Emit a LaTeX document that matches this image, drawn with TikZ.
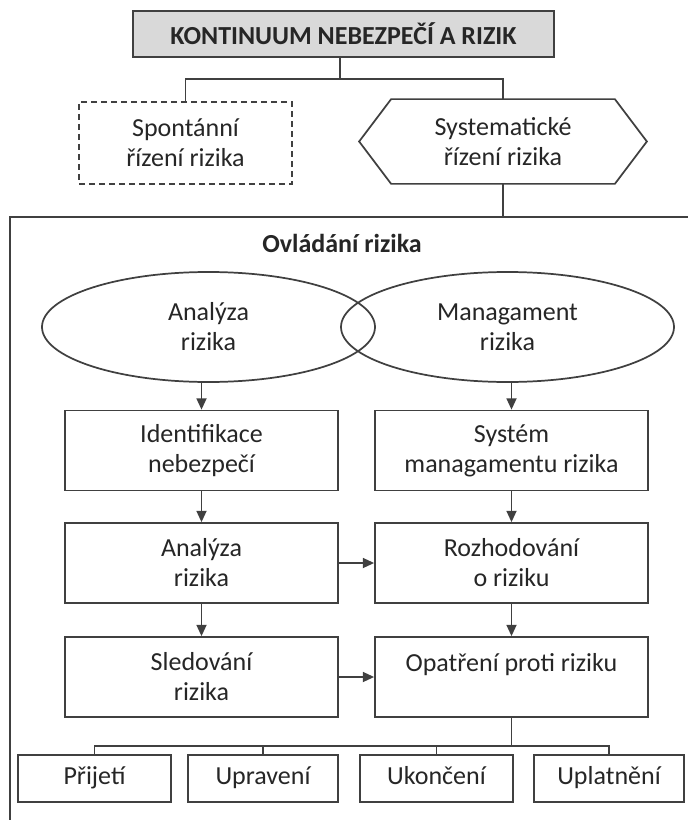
\documentclass[tikz,border=0pt]{standalone}
\usepackage{fontspec}
\setmainfont{Carlito}
\usetikzlibrary{shapes.geometric,arrows.meta,calc}
\definecolor{lc}{HTML}{404040}
\definecolor{tc}{HTML}{262626}
\definecolor{titlefill}{HTML}{D9D9D9}
\newcommand\myfs{\fontsize{19.5}{22.5}\selectfont}
\begin{document}
\begin{tikzpicture}[x=0.75pt,y=-0.75pt,
  ln/.style={draw=lc, line width=1.3pt},
  box/.style={ln, rectangle, align=center, inner sep=0pt, text=tc, font=\myfs},
  mainbox/.style={box, minimum width=204.75pt, minimum height=60pt},
  endbox/.style={ln, rectangle, inner sep=0pt, text=tc, font=\myfs, minimum height=35.25pt, text height=14pt, text depth=4.5pt},
  oval/.style={ln, ellipse, align=center, inner sep=0pt, text=tc, font=\myfs, minimum width=249.75pt, minimum height=82.5pt},
  arr/.style={ln, -{Triangle[length=8.5pt,width=7.5pt]}}]
\useasboundingbox (0,0) rectangle (688,820);
\fill[white] (0,0) rectangle (688,820);
% frame of "Ovladani rizika"
\draw[ln] (690,217) -- (10,217) -- (10,822);
% top
\node[box, fill=titlefill, font=\myfs\bfseries, minimum width=315.75pt, minimum height=34.5pt] (title) at (343.5,34) {KONTINUUM NEBEZPEČÍ A RIZIK};
\node[box, dashed, dash pattern=on 4.5pt off 3pt, minimum width=159.75pt, minimum height=61.5pt] (spont) at (185.5,143) {Spontánní\\řízení rizika};
\node[box, draw=none, minimum width=214.5pt, minimum height=62.25pt] (sys) at (503,141.5) {Systematické\\řízení rizika};
\draw[ln] (sys.west) -- ([xshift=24pt]sys.north west) -- ([xshift=-24pt]sys.north east) -- (sys.east) -- ([xshift=-24pt]sys.south east) -- ([xshift=24pt]sys.south west) -- cycle;
\coordinate (bar1) at (340,79);
\coordinate (ovtop) at (503,217);
\draw[ln] (title.south -| bar1) -- (bar1);
\draw[ln] (spont.north) |- (bar1) -| (sys.north);
\draw[ln] (sys.south) -- (ovtop);
% inside
\node[font=\myfs\bfseries, text=tc, inner sep=0pt] (ovl) at (342,243) {Ovládání rizika};
\node[oval] (anal) at (208.5,327) {Analýza\\rizika};
\node[oval] (man) at (507.5,327) {Managament\\rizika};
\node[mainbox] (ident) at (201.5,450.5) {Identifikace\\nebezpečí};
\node[mainbox] (syst) at (511.5,450.5) {Systém\\managamentu rizika};
\node[mainbox] (anr) at (201.5,563) {Analýza\\rizika};
\node[mainbox] (roz) at (511.5,563) {Rozhodování\\o riziku};
\node[mainbox] (sled) at (201.5,677) {Sledování\\rizika};
\node[mainbox] (opat) at (511.5,677) {Opatření proti riziku\\~};
\draw[arr] (anal.south -| ident.north) -- (ident.north);
\draw[arr] (man.south -| syst.north) -- (syst.north);
\draw[arr] (ident) -- (anr);
\draw[arr] (syst) -- (roz);
\draw[arr] (anr) -- (sled);
\draw[arr] (roz) -- (opat);
\draw[arr] (anr) -- (roz);
\draw[arr] (sled) -- (opat);
% bottom
\node[endbox, minimum width=114.75pt] (prij) at (94.5,778.5) {Přijetí};
\node[endbox, minimum width=112.5pt] (upr) at (263,778.5) {Upravení};
\node[endbox, minimum width=114.75pt] (ukon) at (436.5,778.5) {Ukončení};
\node[endbox, minimum width=112.5pt] (upl) at (609,778.5) {Uplatnění};
\coordinate (bar2) at (511.5,746);
\draw[ln] (opat.south) -- (bar2);
\draw[ln] (bar2) -| (prij.north);
\draw[ln] (bar2) -| (upr.north);
\draw[ln] (bar2) -| (ukon.north);
\draw[ln] (bar2) -| (upl.north);
\end{tikzpicture}
\end{document}
